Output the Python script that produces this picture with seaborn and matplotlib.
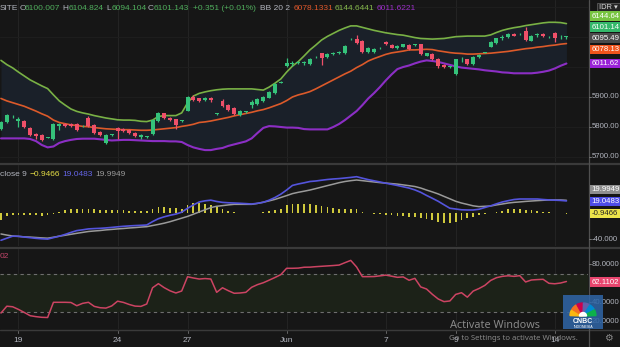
import numpy as np
import pandas as pd
import matplotlib
matplotlib.use("Agg")
import matplotlib.pyplot as plt
from matplotlib.patches import Rectangle, Wedge
from matplotlib.transforms import blended_transform_factory as blend
import seaborn as sns

# ---------------- data ----------------
opens = [5793, 5817, 5835, 5820, 5820, 5798, 5777, 5773, 5764, 5760,
         5803, 5810, 5810, 5810, 5802, 5829, 5807, 5782, 5746, 5774,
         5797, 5793, 5790, 5781, 5766, 5766, 5777, 5821, 5846, 5831,
         5826, 5820, 5854, 5899, 5896, 5891, 5898, 5843, 5887, 5873,
         5862, 5839, 5850, 5872, 5877, 5887, 5898, 5912, 5948, 6004,
         6009, 6013, 6012, 6010, 6032, 6046, 6032, 6042, 6046, 6046,
         6092, 6092, 6088, 6049, 6051, 6062, 6083, 6073, 6062, 6068,
         6073, 6073, 6076, 6038, 6043, 6027, 6007, 6000, 5977, 6025,
         6026, 6010, 6032, 6047, 6068, 6081, 6097, 6099, 6110, 6109,
         6121, 6088, 6106, 6110, 6099, 6112, 6099, 6100.0]
highs = [5820, 5843, 5840, 5833, 5823, 5800, 5780, 5777, 5767, 5813,
         5813, 5814, 5813, 5813, 5806, 5837, 5810, 5785, 5777, 5778,
         5800, 5797, 5793, 5783, 5777, 5770, 5827, 5850, 5848, 5833,
         5828, 5823, 5903, 5907, 5898, 5900, 5900, 5846, 5893, 5877,
         5865, 5855, 5854, 5890, 5895, 5902, 5920, 5945, 5952, 6029,
         6020, 6020, 6021, 6030, 6035, 6048, 6047, 6050, 6053, 6073,
         6096, 6107, 6090, 6065, 6062, 6065, 6087, 6076, 6073, 6078,
         6077, 6076, 6078, 6048, 6047, 6030, 6010, 6004, 6028, 6033,
         6028, 6035, 6043, 6051, 6087, 6098, 6105, 6113, 6113, 6112,
         6134, 6107, 6113, 6113, 6102, 6115, 6105, 6104.8]
lows = [5790, 5813, 5830, 5800, 5797, 5770, 5759, 5753, 5762, 5757,
        5790, 5799, 5800, 5787, 5800, 5800, 5778, 5770, 5743, 5771,
        5760, 5783, 5777, 5767, 5760, 5764, 5773, 5818, 5827, 5820,
        5793, 5818, 5852, 5887, 5883, 5888, 5883, 5841, 5867, 5853,
        5840, 5837, 5848, 5863, 5873, 5883, 5895, 5910, 5946, 6001,
        6003, 6010, 6006, 6007, 6030, 6007, 6030, 6040, 6043, 6043,
        6090, 6077, 6048, 6047, 6048, 6060, 6073, 6062, 6060, 6065,
        6057, 6071, 6040, 6035, 6023, 5998, 5997, 5998, 5972, 6018,
        6007, 6007, 6030, 6045, 6065, 6078, 6090, 6097, 6102, 6107,
        6087, 6085, 6100, 6100, 6097, 6084, 6093, 6094.1]
closes = [5817, 5840, 5836, 5827, 5799, 5773, 5769, 5758, 5765, 5810,
          5810, 5803, 5804, 5790, 5803, 5803, 5781, 5773, 5773, 5775,
          5788, 5786, 5779, 5770, 5773, 5767, 5823, 5847, 5829, 5823,
          5807, 5821, 5901, 5890, 5887, 5897, 5890, 5844, 5870, 5857,
          5843, 5852, 5851, 5882, 5892, 5899, 5918, 5942, 5949, 6012,
          6014, 6015, 6016, 6027, 6033, 6031, 6043, 6048, 6051, 6071,
          6093, 6079, 6051, 6062, 6059, 6063, 6076, 6064, 6070, 6076,
          6059, 6074, 6043, 6046, 6026, 6002, 5999, 6001, 6026, 6026,
          6010, 6032, 6040, 6048, 6084, 6096, 6098, 6110, 6104, 6110,
          6090, 6104, 6107, 6103, 6100, 6096, 6100, 6101.1]
bb_upper = [6022, 6008, 5997, 5983, 5970, 5957, 5947, 5937, 5928, 5907,
            5887, 5873, 5860, 5852, 5847, 5843, 5838, 5834, 5830, 5827,
            5824, 5823, 5823, 5822, 5819, 5818, 5823, 5835, 5838, 5838,
            5838, 5847, 5880, 5903, 5912, 5917, 5921, 5924, 5926, 5927,
            5927, 5927, 5927, 5927, 5925, 5923, 5933, 5946, 5960, 5983,
            6003, 6018, 6037, 6057, 6073, 6090, 6102, 6112, 6122, 6130,
            6137, 6137, 6132, 6127, 6122, 6118, 6114, 6111, 6108, 6106,
            6102, 6098, 6095, 6094, 6093, 6094, 6095, 6098, 6101, 6102,
            6103, 6103, 6103, 6103, 6107, 6115, 6122, 6127, 6131, 6134,
            6138, 6141, 6144, 6147, 6149, 6149, 6148, 6144.6]
bb_mid = [5895, 5887, 5881, 5875, 5869, 5861, 5853, 5844, 5836, 5823,
          5815, 5811, 5807, 5805, 5802, 5801, 5798, 5796, 5794, 5793,
          5792, 5791, 5791, 5790, 5789, 5789, 5790, 5792, 5794, 5796,
          5798, 5802, 5805, 5809, 5815, 5817, 5820, 5824, 5828, 5832,
          5837, 5841, 5845, 5849, 5854, 5858, 5864, 5871, 5878, 5888,
          5900, 5907, 5912, 5918, 5927, 5937, 5947, 5957, 5967, 5977,
          5986, 5998, 6008, 6020, 6028, 6035, 6042, 6047, 6050, 6053,
          6057, 6057, 6058, 6059, 6058, 6054, 6051, 6048, 6046, 6045,
          6043, 6043, 6044, 6045, 6046, 6048, 6050, 6052, 6055, 6058,
          6061, 6063, 6066, 6068, 6071, 6073, 6076, 6078.1]
bb_lower = [5762, 5762, 5762, 5762, 5762, 5760, 5753, 5740, 5732, 5735,
            5747, 5753, 5757, 5760, 5761, 5761, 5761, 5759, 5757, 5755,
            5756, 5757, 5757, 5756, 5755, 5754, 5753, 5753, 5753, 5752,
            5752, 5750, 5740, 5732, 5727, 5723, 5723, 5727, 5730, 5737,
            5742, 5747, 5752, 5762, 5780, 5797, 5803, 5802, 5800, 5798,
            5798, 5797, 5793, 5792, 5792, 5792, 5792, 5800, 5810, 5823,
            5838, 5853, 5873, 5895, 5913, 5933, 5955, 5975, 5993, 6000,
            6005, 6012, 6018, 6022, 6020, 6017, 6012, 6007, 6002, 5998,
            5996, 5994, 5992, 5989, 5987, 5985, 5982, 5981, 5979, 5979,
            5979, 5979, 5981, 5984, 5988, 5995, 6004, 6011.6]
macd_line = [-41.5, -38.3, -35.2, -35.4, -36.5, -37.5, -38.5, -39.2, -39.7, -37.4,
             -35.2, -32.5, -29.4, -26.6, -25.4, -24.0, -23.5, -23.1, -22.5, -21.7,
             -20.8, -20.0, -19.4, -18.9, -18.5, -18.0, -12.8, -8.3, -5.4, -3.1,
             -1.2, 1.7, 7.7, 12.8, 17.4, 19.2, 20.2, 18.2, 16.8, 16.2,
             15.8, 15.4, 14.9, 14.3, 15.4, 16.9, 20.2, 24.3, 29.4, 35.8,
             42.9, 45.1, 46.9, 48.9, 49.7, 50.9, 52.0, 52.8, 53.4, 54.3,
             55.2, 56.3, 54.0, 51.8, 50.0, 48.2, 46.3, 44.6, 42.8, 40.8,
             38.8, 36.0, 32.3, 27.5, 23.1, 18.5, 13.1, 7.8, 6.6, 5.4,
             5.1, 5.1, 6.2, 8.9, 11.5, 14.6, 17.4, 19.4, 21.2, 22.0,
             22.0, 22.0, 22.0, 21.2, 20.6, 20.2, 19.8, 19.05]
macd_signal = [-31.8, -33.5, -34.9, -35.5, -36.2, -36.6, -37.2, -37.8, -38.3, -36.8,
               -35.2, -33.8, -32.3, -30.8, -29.4, -28.0, -27.2, -26.5, -25.5, -24.8,
               -24.0, -23.4, -22.6, -22.0, -21.2, -20.6, -18.8, -17.1, -15.2, -12.9,
               -10.2, -7.5, -4.8, -1.4, 2.0, 5.4, 8.8, 10.8, 11.8, 12.9,
               13.8, 13.8, 13.8, 13.8, 15.2, 17.1, 19.1, 21.4, 24.3, 27.2,
               30.3, 32.3, 34.0, 35.8, 38.0, 40.3, 42.6, 44.8, 47.1, 48.9,
               50.2, 51.2, 50.2, 49.2, 48.2, 47.2, 46.5, 45.7, 44.9, 43.7,
               42.5, 41.2, 38.9, 35.8, 32.9, 29.8, 26.0, 22.3, 18.5, 15.8,
               13.7, 11.5, 10.3, 10.8, 11.2, 12.9, 14.3, 15.8, 16.8, 17.5,
               18.3, 18.9, 19.5, 20.0, 20.5, 20.5, 20.5, 19.99]
macd_hist = [-10.3, -3.8, -3.1, -2.8, -2.3, -3.1, -3.1, -3.8, -3.1, -1.2,
             2.6, 5.1, 6.2, 6.2, 6.2, 6.2, 6.2, 5.1, 5.1, 5.1,
             5.1, 5.1, 4.2, 4.2, 3.5, 4.2, 6.2, 9.2, 9.2, 8.8,
             7.7, 6.2, 12.8, 15.4, 15.4, 14.3, 12.8, 9.2, 6.2, 4.2,
             1.5, 0.8, 0.5, 0.5, 1.1, 2.6, 4.2, 5.1, 7.2, 12.8,
             14.3, 14.3, 14.3, 13.8, 12.8, 11.2, 10.3, 7.7, 6.6, 6.6,
             6.6, 6.2, 2.6, 0.5, -0.8, -1.5, -2.6, -2.6, -3.5, -4.2,
             -5.1, -6.2, -7.7, -9.2, -10.3, -12.8, -14.3, -14.3, -12.8, -10.3,
             -7.7, -5.1, -2.6, -1.1, 0.5, 2.6, 4.2, 6.2, 6.2, 6.2,
             5.1, 5.1, 4.2, 2.6, 1.5, 0.8, 0.5, -0.9466]
rsi = [28.9, 36.1, 35.5, 32.7, 29.5, 26.1, 25.1, 24.4, 24.2, 40.2,
       40.2, 40.2, 40.0, 36.6, 39.1, 40.2, 35.9, 34.5, 34.1, 36.4,
       41.4, 40.1, 37.9, 36.2, 35.9, 38.4, 55.5, 59.8, 55.6, 52.3,
       50.0, 52.1, 67.1, 65.8, 64.7, 65.2, 64.7, 50.7, 55.5, 52.4,
       49.7, 50.0, 50.7, 56.0, 58.8, 60.8, 63.5, 66.3, 69.3, 76.0,
       76.0, 76.2, 77.1, 77.2, 77.7, 78.1, 78.5, 78.9, 79.4, 81.9,
       84.3, 77.4, 67.2, 67.2, 67.3, 68.0, 68.8, 67.7, 66.5, 66.9,
       63.4, 65.4, 56.4, 54.2, 48.6, 43.7, 40.9, 41.6, 48.5, 50.3,
       45.6, 52.0, 54.7, 58.0, 63.2, 66.1, 67.5, 68.1, 67.5, 68.2,
       61.6, 63.7, 64.1, 64.4, 60.2, 59.7, 60.5, 62.11]
tick_pos = [3, 20, 32, 49, 66, 78, 95]
tick_labels = ["19", "24", "27", "Jun", "7", "9", "14"]
price_ticks = [5700, 5800, 5900]
price_tick_labels = ["5700.00", "5800.00", "5900.00"]
rsi_ticks = [80, 40, 20]
rsi_tick_labels = ["80.0000", "40.0000", "20.0000"]
macd_ticks = [-40]
macd_tick_labels = ["-40.000"]

# ---------------- style ----------------
BG = "#161616"
GREEN = "#35c27a"
RED = "#ef5069"
TXT = "#b2b5be"
GRID = "#232323"
sns.set_theme(style="dark", rc={"axes.facecolor": BG, "figure.facecolor": BG})
plt.rcParams["font.family"] = ["Liberation Sans", "DejaVu Sans"]

W, H = 620, 347
fig = plt.figure(figsize=(W / 100, H / 100), dpi=100, facecolor=BG)


def rect(top, bottom, left=0, right=588):
    return [left / W, 1 - bottom / H, (right - left) / W, (bottom - top) / H]


ax1 = fig.add_axes(rect(0, 162))
ax2 = fig.add_axes(rect(165, 246))
ax3 = fig.add_axes(rect(249, 329))
idx = np.arange(len(closes))
df = pd.DataFrame({"i": idx, "o": opens, "h": highs, "l": lows, "c": closes,
                   "up": bb_upper, "mid": bb_mid, "lo": bb_lower,
                   "macd": macd_line, "sig": macd_signal, "hist": macd_hist, "rsi": rsi})

for ax in (ax1, ax2, ax3):
    ax.set_facecolor(BG)
    for s in ax.spines.values():
        s.set_visible(False)
    for p in tick_pos:
        ax.axvline(p, color=GRID, lw=0.8, zorder=0)

ax1.set_ylim(5683.3, 6223.3)
ax2.set_ylim(-50.3, 74.3)
ax3.set_ylim(12.1, 96.3)
for v in [5700, 5800, 5900, 6000, 6100, 6200]:
    ax1.axhline(v, color="#1e1e1e", lw=0.7, zorder=0)

# ---- main panel: Bollinger + candles
ax1.fill_between(df["i"], df["lo"], df["up"], color="#1a2029", lw=0, zorder=1)
sns.lineplot(data=df, x="i", y="up", ax=ax1, color="#79b145", lw=1.2, zorder=2)
sns.lineplot(data=df, x="i", y="mid", ax=ax1, color="#dc5a2a", lw=1.2, zorder=2)
sns.lineplot(data=df, x="i", y="lo", ax=ax1, color="#8c2ec4", lw=1.5, zorder=2)
cols = np.where(df["c"] >= df["o"], GREEN, RED)
ax1.vlines(df["i"], df["l"], df["h"], colors=cols, lw=0.9, zorder=3)
body_b = np.minimum(df["o"], df["c"])
body_h = np.maximum(np.abs(df["c"] - df["o"]), 2.5)
ax1.bar(df["i"], body_h, bottom=body_b, width=0.68, color=cols, lw=0, zorder=4)

# ---- MACD panel
ax2.bar(df["i"], df["hist"], width=0.3, color="#cfc93c", lw=0, zorder=2)
sns.lineplot(data=df, x="i", y="sig", ax=ax2, color="#9a9a9a", lw=1.1, zorder=3)
sns.lineplot(data=df, x="i", y="macd", ax=ax2, color="#5454dc", lw=1.2, zorder=4)

# ---- RSI panel
ax3.axhspan(30, 70, color="#1c2218", lw=0, zorder=1)
for v in (70, 30):
    ax3.axhline(v, color="#6e6e6e", lw=0.8, ls=(0, (3, 3)), zorder=2)
sns.lineplot(data=df, x="i", y="rsi", ax=ax3, color="#cc4463", lw=1.1, zorder=3)

for ax in (ax1, ax2, ax3):
    ax.set_xlabel(""); ax.set_ylabel("")
    ax.set_xticks([]); ax.set_yticks([])
    ax.set_xlim(-0.17, 100.7)

# ---------------- overlay in pixel coordinates ----------------
ov = fig.add_axes([0, 0, 1, 1])
ov.set_xlim(0, W); ov.set_ylim(H, 0); ov.axis("off"); ov.patch.set_alpha(0)

ov.plot([0, W], [163.5, 163.5], color="#3a3a3a", lw=1.6)
ov.plot([0, W], [247.5, 247.5], color="#3a3a3a", lw=1.6)
ov.plot([0, W], [330.3, 330.3], color="#3a3a3a", lw=1.0)
ov.plot([588.5, 588.5], [0, H], color="#505050", lw=0.9)

FS = 6.0
TFS = 5.6
# header rows
hdr = [(0, "SITE", TXT), (19.5, "O", TXT), (25, "6100.007", "#4fae5c"), (62.5, "H", TXT),
       (68.3, "6104.824", "#4fae5c"), (106, "L", TXT), (111.2, "6094.104", "#4fae5c"),
       (147.5, "C", TXT), (153.3, "6101.143", "#4fae5c"), (192.7, "+0.351 (+0.01%)", "#4fae5c"),
       (260, "BB 20 2", TXT), (293.3, "6078.1331", "#e0572a"), (335, "6144.6441", "#86b94c"),
       (376.7, "6011.6221", "#9b30c8")]
for x, t, c in hdr:
    ov.text(x, 8, t, color=c, fontsize=FS, va="center", ha="left")
for x, t, c in [(0, "close 9", TXT), (30, "\u22120.9466", "#e4dc45"), (62, "19.0483", "#6464e6"),
                (95, "19.9949", "#9a9a9a")]:
    ov.text(x, 174, t, color=c, fontsize=FS, va="center", ha="left")
ov.text(0, 257, "02", color="#c2456a", fontsize=FS, va="center", ha="left")

# right axis plain labels (positions from the axis scales)
tr1 = blend(ov.transData, ax1.transData)
for v, lab in zip(price_ticks, price_tick_labels):
    ov.text(592, v, lab, transform=tr1, color=TXT, fontsize=TFS, va="center", ha="left")
    ov.plot([588.5, 591], [v, v], transform=tr1, color="#777", lw=0.7)
tr2 = blend(ov.transData, ax2.transData)
for v, lab in zip(macd_ticks, macd_tick_labels):
    ov.text(592, v, lab, transform=tr2, color=TXT, fontsize=TFS, va="center", ha="left")
    ov.plot([588.5, 591], [v, v], transform=tr2, color="#777", lw=0.7)
tr3 = blend(ov.transData, ax3.transData)
for v, lab in zip(rsi_ticks, rsi_tick_labels):
    ov.text(591.5, v, lab, transform=tr3, color=TXT, fontsize=TFS, va="center", ha="left")
    ov.plot([588.5, 591], [v, v], transform=tr3, color="#777", lw=0.7)


def tag(yc, text, bg, fg="white", h=9.5):
    ov.add_patch(Rectangle((589.5, yc - h / 2), 31, h, color=bg, lw=0, zorder=5))
    ov.text(591.3, yc + 0.3, text, color=fg, fontsize=TFS, va="center", ha="left", zorder=6)


ov.add_patch(Rectangle((597, 2.5), 23, 9.5, facecolor="#262626", edgecolor="#5a5a5a", lw=0.6, zorder=5))
ov.text(599, 7.3, "IDR \u25be", color="#d8d8d8", fontsize=5.4, va="center", ha="left", zorder=6)
tag(16, "6144.64", "#78c440")
tag(27, "6101.14", "#34b86a")
tag(38, "6095.49", "#4a4a4a")
tag(49.5, "6078.13", "#f0541c")
tag(63.5, "6011.62", "#9a22d8")
tag(189.5, "19.9949", "#8e8e8e")
tag(201.5, "19.0483", "#4d4de6")
tag(213.5, "-0.9466", "#ece44a", fg="#222222")
tag(282, "62.1102", "#e8456e")

# time axis labels
trx = blend(ax3.transData, ov.transData)
for p, lab in zip(tick_pos, tick_labels):
    ov.text(p, 340, lab, transform=trx, color=TXT, fontsize=FS, va="center", ha="center")
    ov.plot([p, p], [330.5, 333], transform=trx, color="#666", lw=0.7)

# CNBC logo
ov.add_patch(Rectangle((563, 295), 40, 34, color="#2f66a8", alpha=0.85, lw=0, zorder=7))
feathers = ["#fcb711", "#f37021", "#cc004c", "#6460aa", "#0089d0", "#0db14b"]
for k, c in enumerate(feathers):
    ov.add_patch(Wedge((583, 316), 13, 180 + 30 * k + 2, 180 + 30 * (k + 1) - 2, color=c, zorder=8))
ov.add_patch(Wedge((583, 316), 3.5, 180, 360, color="white", zorder=9))
ov.text(583, 321.5, "CNBC", color="white", fontsize=5, fontweight="bold", ha="center", va="center", zorder=9)
ov.text(583, 326.5, "INDONESIA", color="white", fontsize=2.6, ha="center", va="center", zorder=9)

# watermark
ov.text(450, 325, "Activate Windows", color="#9c9c9c", fontsize=7.8, va="center", ha="left",
        family=["Noto Sans", "DejaVu Sans"], alpha=0.85, zorder=10)
ov.text(449, 338, "Go to Settings to activate Windows.", color="#9c9c9c", fontsize=5.6, va="center",
        ha="left", family=["Noto Sans", "DejaVu Sans"], alpha=0.85, zorder=10)
ov.text(608, 338, "\u2699", color="#8a8a8a", fontsize=7, va="center", ha="center",
        family=["DejaVu Sans"], zorder=10)

fig.savefig("out.png", dpi=100, facecolor=BG)
